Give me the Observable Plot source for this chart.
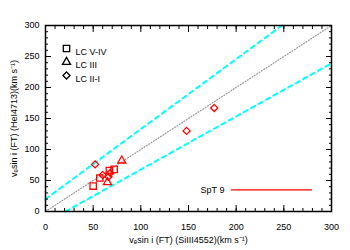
<!DOCTYPE html>
<html><head><meta charset="utf-8">
<script src="https://cdn.jsdelivr.net/npm/d3@7"></script>
<script src="https://cdn.jsdelivr.net/npm/@observablehq/plot@0.6"></script>
<style>body{margin:0;background:#fff}</style>
</head><body><div id="chart"></div>
<script>
// Data
const lcVIV_x = [50, 57, 67, 72];
const lcVIV_y = [41, 54, 66, 68];
const lcIII_x = [65, 80];
const lcIII_y = [47, 82];
const lcIII_I_x = [52, 60, 66, 68, 148, 177];
const lcIII_I_y = [76, 59, 56, 62, 130, 167];
const oneToOne_x = [0, 300];
const oneToOne_y = [0, 300];
const upper_x = [0, 248];
const upper_y = [20, 300];
const lower_x = [21, 300];
const lower_y = [0, 239];
const legendLabels = ["LC V-IV", "LC III", "LC II-I"];
const legendSymbols = ["square", "triangle", "diamond2"];
const majorTicks = [0, 50, 100, 150, 200, 250, 300];
const minorTicks = d3.range(0, 301, 10);
const spt = {label: "SpT 9", x1: 195, x2: 280, y: 35};

const toPts = (xs, ys) => xs.map((x, i) => ({x, y: ys[i]}));
const font = "Liberation Sans, Arial, Helvetica, sans-serif";
const symR = {square: 3.6, triangle: 3.0, diamond2: 3.2};

const legendMarks = legendLabels.flatMap((lab, i) => [
  Plot.dot([lab], {frameAnchor: "top-left", dx: 21, dy: 23 + i * 13.5, symbol: legendSymbols[i], r: symR[legendSymbols[i]], stroke: "black", strokeWidth: 1.3}),
  Plot.text([lab], {frameAnchor: "top-left", dx: 30, dy: 23 + i * 13.5, text: d => d, textAnchor: "start", fontSize: 9, fill: "black"})
]);

const chart = Plot.plot({
  width: 350, height: 250,
  marginLeft: 45, marginRight: 19, marginTop: 25, marginBottom: 39,
  style: {fontFamily: font, fontSize: "9px", color: "black", background: "white"},
  x: {domain: [0, 300]},
  y: {domain: [0, 300]},
  marks: [
    Plot.line(toPts(oneToOne_x, oneToOne_y), {x: "x", y: "y", stroke: "#999", strokeWidth: 1.2, strokeDasharray: "1,1.8"}),
    Plot.line(toPts(upper_x, upper_y), {x: "x", y: "y", stroke: "cyan", strokeWidth: 2, strokeDasharray: "4.5,4"}),
    Plot.line(toPts(lower_x, lower_y), {x: "x", y: "y", stroke: "cyan", strokeWidth: 2, strokeDasharray: "4.5,4"}),
    Plot.dot(toPts(lcVIV_x, lcVIV_y), {x: "x", y: "y", symbol: "square", r: symR.square, stroke: "red", strokeWidth: 1.3}),
    Plot.dot(toPts(lcIII_x, lcIII_y), {x: "x", y: "y", symbol: "triangle", r: symR.triangle, stroke: "red", strokeWidth: 1.3}),
    Plot.dot(toPts(lcIII_I_x, lcIII_I_y), {x: "x", y: "y", symbol: "diamond2", r: symR.diamond2, stroke: "red", strokeWidth: 1.3}),
    ...legendMarks,
    // SpT annotation
    Plot.ruleY([spt], {y: "y", x1: "x1", x2: "x2", stroke: "red", strokeWidth: 1.3}),
    Plot.text([spt], {x: "x1", y: "y", text: "label", dx: -7, textAnchor: "end", fontSize: 9, fill: "black"}),
    // axes: labels
    Plot.axisX({anchor: "bottom", ticks: majorTicks, tickSize: 0, tickPadding: 12, fontSize: 9,
      label: "vₑsin i (FT) (SiIII4552)(km s⁻¹)", labelAnchor: "center", labelArrow: "none", labelOffset: 31}),
    Plot.axisY({anchor: "left", ticks: majorTicks, tickSize: 0, tickPadding: 6, fontSize: 9,
      label: "vₑsin i (FT) (HeI4713)(km s⁻¹)", labelAnchor: "center", labelArrow: "none", labelOffset: 35}),
    // inward ticks, all four sides
    Plot.axisX({anchor: "bottom", ticks: majorTicks, tickSize: -6, text: null, label: null}),
    Plot.axisX({anchor: "top", ticks: majorTicks, tickSize: -6, text: null, label: null}),
    Plot.axisY({anchor: "left", ticks: majorTicks, tickSize: -6, text: null, label: null}),
    Plot.axisY({anchor: "right", ticks: majorTicks, tickSize: -6, text: null, label: null}),
    Plot.axisX({anchor: "bottom", ticks: minorTicks, tickSize: -3, text: null, label: null}),
    Plot.axisX({anchor: "top", ticks: minorTicks, tickSize: -3, text: null, label: null}),
    Plot.axisY({anchor: "left", ticks: minorTicks, tickSize: -3, text: null, label: null}),
    Plot.axisY({anchor: "right", ticks: minorTicks, tickSize: -3, text: null, label: null}),
    Plot.frame({stroke: "black", strokeWidth: 1.5})
  ]
});
document.getElementById("chart").appendChild(chart);
</script></body></html>
